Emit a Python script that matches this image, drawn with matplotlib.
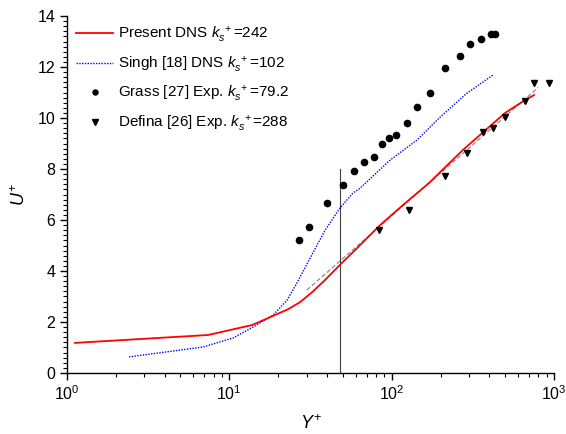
import matplotlib
matplotlib.use("Agg")
import matplotlib.pyplot as plt
from matplotlib.ticker import MultipleLocator, LogLocator, NullFormatter

plt.rcParams["font.family"] = ["Liberation Sans", "DejaVu Sans"]
plt.rcParams["mathtext.fontset"] = "custom"
plt.rcParams["mathtext.rm"] = "Liberation Sans"
plt.rcParams["mathtext.it"] = "Liberation Sans:italic"
plt.rcParams["mathtext.bf"] = "Liberation Sans:bold"

# Present DNS, k_s+ = 242
present_y = [1.12, 7.4, 13.8, 18.6, 23.0, 27.3, 32.5, 38.9, 48, 59.5, 84.9, 117.5, 172.5, 199, 275, 500, 661, 754]
present_u = [1.18, 1.49, 1.88, 2.24, 2.50, 2.78, 3.18, 3.65, 4.24, 4.82, 5.80, 6.59, 7.49, 7.88, 8.75, 10.2, 10.7, 10.9]

# Singh [18] DNS, k_s+ = 102
singh_y = [2.41, 6.9, 10.5, 14.0, 18.6, 22.7, 26.1, 31.4, 38.9, 48, 57.8, 63.9, 97.8, 143.5, 199, 291.5, 421.7]
singh_u = [0.63, 1.02, 1.37, 1.80, 2.27, 2.86, 3.53, 4.50, 5.60, 6.47, 7.06, 7.25, 8.35, 9.14, 10.04, 10.98, 11.69]

# Grass [27] experiment, k_s+ = 79.2
grass_y = [26.7, 31, 40.2, 50, 58.7, 67.6, 78, 87.3, 96.4, 106.4, 124.5, 143.5, 172.4, 213, 264, 304, 355.6, 409, 433.6]
grass_u = [5.20, 5.73, 6.67, 7.37, 7.92, 8.27, 8.47, 8.98, 9.22, 9.33, 9.80, 10.43, 10.98, 11.96, 12.43, 12.90, 13.10, 13.30, 13.30]

# Defina [26] experiment, k_s+ = 288
defina_y = [83.6, 128, 213, 291.5, 365.6, 421.7, 500, 664, 754, 933]
defina_u = [5.60, 6.39, 7.73, 8.63, 9.45, 9.60, 10.04, 10.67, 11.37, 11.37]

# Log-law reference segment (end points)
loglaw_y = [30, 800]
loglaw_u = [3.25, 11.2]

# Vertical marker at Y+ = 48
marker_y = 48
marker_u = [0, 8]

fig = plt.figure(figsize=(5.66, 4.34), dpi=100)
ax = fig.add_axes([0.1184, 0.1406, 0.8604, 0.8224])

ax.plot(loglaw_y, loglaw_u, color="#808080", lw=0.8, ls=(0, (4, 2)), zorder=1)
ax.plot([marker_y, marker_y], marker_u, color="#404040", lw=0.8, zorder=1)

ax.plot(present_y, present_u, color="red", lw=1.3, zorder=3,
        label=r"Present DNS $k_s^{\ +}$=242")
ax.plot(singh_y, singh_u, color="blue", lw=1.0, ls=(0, (1, 1)), zorder=2,
        label=r"Singh [18] DNS $k_s^{\ +}$=102")
ax.plot(grass_y, grass_u, ls="none", marker="o", ms=4.5, color="black", zorder=4,
        label=r"Grass [27] Exp. $k_s^{\ +}$=79.2")
ax.plot(defina_y, defina_u, ls="none", marker="v", ms=5.0, color="black", zorder=4,
        label=r"Defina [26] Exp. $k_s^{\ +}$=288")

ax.set_xscale("log")
ax.set_xlim(1, 1000)
ax.set_ylim(0, 14)
ax.yaxis.set_major_locator(MultipleLocator(2))
ax.yaxis.set_minor_locator(MultipleLocator(0.2))
ax.xaxis.set_minor_locator(LogLocator(base=10, subs=range(2, 10)))
ax.xaxis.set_minor_formatter(NullFormatter())

for s in ("top", "right"):
    ax.spines[s].set_visible(False)
for s in ("left", "bottom"):
    ax.spines[s].set_linewidth(1.0)

ax.tick_params(which="major", direction="out", length=5, width=1.0, labelsize=11.5)
ax.tick_params(which="minor", direction="out", length=3, width=0.8)

ax.set_xlabel(r"$Y^{+}$", fontsize=13, labelpad=8)
ax.set_ylabel(r"$U^{+}$", fontsize=13, labelpad=6)

leg = ax.legend(loc="upper left", bbox_to_anchor=(0.0, 1.0), frameon=False,
                fontsize=11, handlelength=2.4, handletextpad=0.35,
                labelspacing=0.62, borderaxespad=0.2, numpoints=1,
                markerscale=0.8)

fig.savefig("out.png", dpi=100)
